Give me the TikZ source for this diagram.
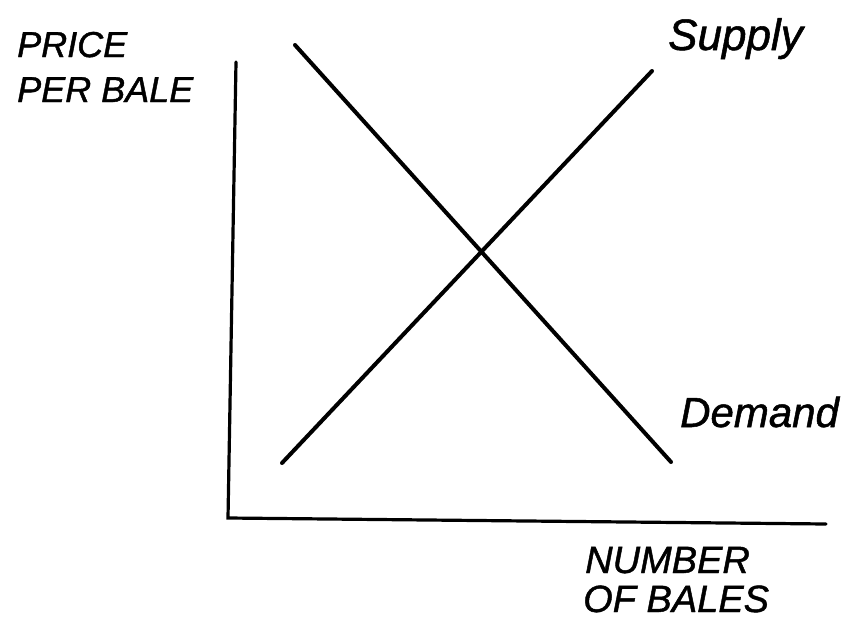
\documentclass[tikz,border=0pt]{standalone}
\usepackage{fontspec}
\newfontfamily\handfont{Liberation Sans}[ItalicFeatures={FakeBold=1.2}]
\usetikzlibrary{positioning}

\begin{document}
\begin{tikzpicture}[
x=1pt, y=-1pt,
axis/.style={line width=3.2pt, line cap=round},
curve/.style={line width=4pt, line cap=round},
lbl/.style={inner sep=0pt, anchor=base west, font=\fontsize{36}{40}\selectfont\handfont\itshape},
word/.style={lbl, font=\fontsize{42}{46}\selectfont\handfont\itshape}
]
\useasboundingbox (0,0) rectangle (854,621);

% axes
\coordinate (ytop) at (236,62);
\coordinate (origin) at (228,518);
\coordinate (xend) at (826,524);
\draw[axis] (ytop) -- (origin) -- (xend);

% supply and demand
\coordinate (s0) at (282,463);
\coordinate (s1) at (652,71);
\coordinate (d0) at (295,45);
\coordinate (d1) at (671,462);
\draw[curve] (s0) -- (s1);
\draw[curve] (d0) -- (d1);

% labels
\node[lbl] (price) at (17,57) {PRICE};
\node[lbl] (bale) at (17,102) {PER BALE};
\node[word, font=\fontsize{44}{48}\selectfont\handfont\itshape] (supply) at (668,50) {Supply};
\node[word] (demand) at (680,427) {Demand};
\node[lbl, font=\fontsize{38}{42}\selectfont\handfont\itshape] (number) at (585,573) {NUMBER};
\node[lbl, font=\fontsize{38}{42}\selectfont\handfont\itshape] (bales) at (583,612) {OF BALES};
\end{tikzpicture}
\end{document}
